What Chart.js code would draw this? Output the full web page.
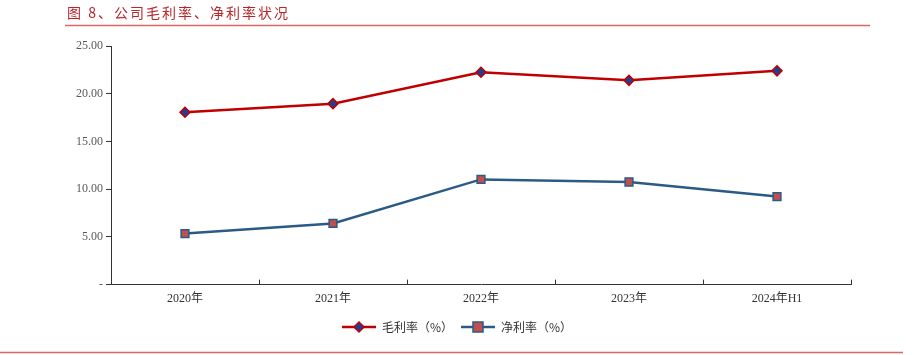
<!DOCTYPE html>
<html>
<head>
<meta charset="utf-8">
<script src="https://cdn.jsdelivr.net/npm/chart.js@4.4.1/dist/chart.umd.min.js"></script>
<style>
html,body{margin:0;padding:0;background:#fff;}
#wrap{position:relative;width:914px;height:355px;}
</style>
</head>
<body>
<div id="wrap"><canvas id="c" width="914" height="355"></canvas></div>
<script>
const titleText = "图 8、公司毛利率、净利率状况";
const categories = ["2020年", "2021年", "2022年", "2023年", "2024年H1"];
const grossMargin = [18.06, 18.96, 22.25, 21.40, 22.40];
const netMargin = [5.35, 6.41, 11.02, 10.75, 9.22];
const seriesNames = ["毛利率（%）", "净利率（%）"];
const yTicks = [0, 5, 10, 15, 20, 25];

const RED = "#c00000";
const BLUE = "#2b5a87";
const DIAMOND_FILL = "#1f3f94";
const SQUARE_FILL = "#c0504d";
const SERIF = "'Liberation Serif','Noto Sans CJK SC',serif";
const CJK = "'Noto Sans CJK SC','Liberation Serif',sans-serif";

function legendIcon(lineColor, shape, fill, border) {
  const cv = document.createElement('canvas');
  cv.width = 34; cv.height = 14;
  const g = cv.getContext('2d');
  g.strokeStyle = lineColor; g.lineWidth = 2.5;
  g.beginPath(); g.moveTo(0, 7); g.lineTo(34, 7); g.stroke();
  g.fillStyle = fill; g.strokeStyle = border; g.lineWidth = 1.5;
  if (shape === 'diamond') {
    g.beginPath(); g.moveTo(17, 2); g.lineTo(22, 7); g.lineTo(17, 12); g.lineTo(12, 7); g.closePath();
  } else {
    g.beginPath(); g.rect(12, 2, 10, 10);
  }
  g.fill(); g.stroke();
  return cv;
}
const icons = [
  legendIcon(RED, 'diamond', DIAMOND_FILL, RED),
  legendIcon(BLUE, 'square', SQUARE_FILL, BLUE)
];

const decoPlugin = {
  id: 'deco',
  afterDraw(chart) {
    const ctx = chart.ctx;
    ctx.save();
    ctx.fillStyle = "#b8262b";
    ctx.font = "14px " + CJK;
    ctx.letterSpacing = "2px";
    ctx.textBaseline = 'middle';
    ctx.textAlign = 'left';
    ctx.fillText(titleText, 67, 13);
    ctx.letterSpacing = "0px";
    ctx.strokeStyle = "#e06666";
    ctx.lineWidth = 1.5;
    ctx.beginPath(); ctx.moveTo(65, 25.5); ctx.lineTo(870, 25.5); ctx.stroke();
    ctx.beginPath(); ctx.moveTo(0, 352.5); ctx.lineTo(903, 352.5); ctx.stroke();
    const xs = chart.scales.x, ys = chart.scales.y;
    const base = ys.getPixelForValue(0);
    const n = categories.length;
    const step = (xs.getPixelForValue(n - 1) - xs.getPixelForValue(0)) / (n - 1);
    ctx.strokeStyle = "#333";
    ctx.lineWidth = 1;
    for (let i = 0; i <= n; i++) {
      const px = Math.round(xs.getPixelForValue(0) - step / 2 + i * step) + 0.5;
      ctx.beginPath(); ctx.moveTo(px, base); ctx.lineTo(px, base - 5); ctx.stroke();
    }
    ctx.restore();
  }
};

new Chart(document.getElementById('c'), {
  type: 'line',
  data: {
    labels: categories,
    datasets: [
      {
        label: seriesNames[0],
        data: grossMargin,
        borderColor: RED,
        backgroundColor: DIAMOND_FILL,
        borderWidth: 2.5,
        pointStyle: 'rectRot',
        pointRadius: 5,
        pointBorderWidth: 1.5,
        pointBorderColor: RED,
        pointBackgroundColor: DIAMOND_FILL,
        tension: 0
      },
      {
        label: seriesNames[1],
        data: netMargin,
        borderColor: BLUE,
        backgroundColor: SQUARE_FILL,
        borderWidth: 2.5,
        pointStyle: 'rect',
        pointRadius: 5.5,
        pointBorderWidth: 1.5,
        pointBorderColor: BLUE,
        pointBackgroundColor: SQUARE_FILL,
        tension: 0
      }
    ]
  },
  options: {
    responsive: false,
    animation: false,
    devicePixelRatio: 1,
    layout: { padding: { top: 46, right: 0, bottom: 12, left: 0 } },
    plugins: {
      tooltip: { enabled: false },
      title: { display: false },
      legend: {
        position: 'bottom',
        labels: {
          usePointStyle: true,
          pointStyleWidth: 34,
          boxHeight: 12,
          padding: 8,
          color: '#333',
          font: { family: CJK, size: 12 },
          generateLabels(chart) {
            return chart.data.datasets.map((ds, i) => ({
              text: ds.label,
              pointStyle: icons[i],
              fillStyle: 'transparent',
              strokeStyle: 'transparent',
              lineWidth: 0,
              fontColor: '#333',
              datasetIndex: i,
              hidden: false
            }));
          }
        }
      }
    },
    scales: {
      x: {
        offset: true,
        grid: { display: false, drawTicks: false },
        border: { display: true, color: '#333', width: 1 },
        ticks: { color: '#333', padding: 7, font: { family: SERIF, size: 12 }, maxRotation: 0 }
      },
      y: {
        min: 0,
        max: 25,
        afterFit(scale) { scale.width = 111; },
        afterBuildTicks(scale) { scale.ticks = yTicks.map(v => ({ value: v })); },
        grid: { drawOnChartArea: false, drawTicks: true, tickLength: 5, color: '#333' },
        border: { display: true, color: '#333', width: 1 },
        ticks: {
          color: '#595959',
          padding: 3,
          font: { family: SERIF, size: 12 },
          callback: v => (v === 0 ? '-' : v.toFixed(2))
        }
      },
      yRight: {
        position: 'right',
        display: true,
        min: 0,
        max: 25,
        afterFit(scale) { scale.width = 63; },
        grid: { display: false, drawTicks: false },
        border: { display: false },
        ticks: { display: false }
      }
    }
  },
  plugins: [decoPlugin]
});
</script>
</body>
</html>
